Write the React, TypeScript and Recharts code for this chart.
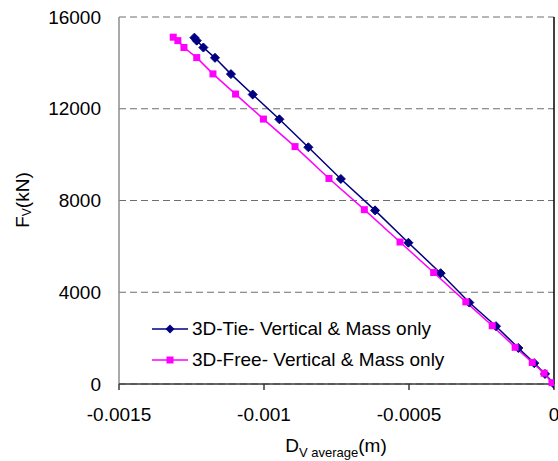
import React from 'react';
import { LineChart, Line, XAxis, YAxis, CartesianGrid, ReferenceLine } from 'recharts';

// Vertical displacement (m) and vertical load (kN) for each model
const tieDisp = [-0.00124, -0.001232, -0.001209, -0.001169, -0.001114, -0.001039, -0.000947, -0.000847, -0.000735, -0.000617, -0.000502, -0.000391, -0.000292, -0.0002, -0.000123, -0.000068, -0.000031, 0];
const tieLoad = [15100, 14970, 14670, 14220, 13510, 12620, 11540, 10320, 8940, 7570, 6160, 4830, 3550, 2520, 1570, 910, 440, 0];
const freeDisp = [-0.001313, -0.001297, -0.001276, -0.001232, -0.001176, -0.001098, -0.001002, -0.000893, -0.000776, -0.000654, -0.000531, -0.000415, -0.000304, -0.000213, -0.000134, -0.000075, -0.000034, -0.000007];
const freeLoad = [15120, 14970, 14670, 14230, 13520, 12640, 11550, 10350, 8960, 7600, 6190, 4860, 3580, 2540, 1600, 940, 470, 60];

const xTicks = [-0.0015, -0.001, -0.0005, 0];
const yTicks = [0, 4000, 8000, 12000, 16000];

const seriesNames = ['3D-Tie- Vertical & Mass only', '3D-Free- Vertical & Mass only'];
const NAVY = '#000080';
const MAGENTA = '#ff00ff';
const FONT = 'Arial, "Liberation Sans", sans-serif';

const tieData = tieDisp.map((d, i) => ({ disp: d, load: tieLoad[i] }));
const freeData = freeDisp.map((d, i) => ({ disp: d, load: freeLoad[i] }));

const Diamond = (props: any) => {
  const { cx, cy } = props;
  if (cx == null || cy == null) return null;
  const r = 4.5;
  return <polygon points={`${cx},${cy - r} ${cx + r},${cy} ${cx},${cy + r} ${cx - r},${cy}`} fill={NAVY} stroke={NAVY} />;
};

const Square = (props: any) => {
  const { cx, cy } = props;
  if (cx == null || cy == null) return null;
  return <rect x={cx - 3.5} y={cy - 3.5} width={7} height={7} fill={MAGENTA} />;
};

const fmtX = (v: number) => (v === 0 ? '0' : String(v));

const XLabel = () => (
  <text x={336} y={452} textAnchor="middle" fontFamily={FONT} fontSize={19} fill="#000">
    D<tspan fontSize={13} dy={5}>V  average</tspan>
    <tspan dy={-5}>(m)</tspan>
  </text>
);

const YLabel = () => (
  <text x={0} y={0} transform="translate(29,200) rotate(-90)" textAnchor="middle" fontFamily={FONT} fontSize={19} fill="#000">
    F<tspan fontSize={12} dy={2}>V</tspan>
    <tspan dy={-2}>(kN)</tspan>
  </text>
);

const LegendBox = () => (
  <div style={{ position: 'absolute', left: 152, top: 313, fontFamily: FONT, fontSize: 19, color: '#000' }}>
    {seriesNames.map((name, i) => (
      <div key={name} style={{ display: 'flex', alignItems: 'center', height: 31, whiteSpace: 'nowrap' }}>
        <svg width={36} height={12} style={{ marginRight: 4 }}>
          <line x1={0} y1={6} x2={36} y2={6} stroke={i === 0 ? NAVY : MAGENTA} strokeWidth={1.5} />
          {i === 0 ? (
            <polygon points="18,1.5 22.5,6 18,10.5 13.5,6" fill={NAVY} />
          ) : (
            <rect x={14.5} y={2.5} width={7} height={7} fill={MAGENTA} />
          )}
        </svg>
        <span>{name}</span>
      </div>
    ))}
  </div>
);

export default function App() {
  return (
    <div style={{ position: 'absolute', left: 0, top: 0, width: 558, height: 461, background: '#fff' }}>
      <LineChart width={558} height={461} margin={{ top: 17, right: 4, bottom: 0, left: 0 }}>
        <CartesianGrid vertical={false} horizontal stroke="#6e6e6e" strokeDasharray="7 4" />
        <XAxis
          type="number"
          dataKey="disp"
          domain={[-0.0015, 0]}
          ticks={xTicks}
          tickFormatter={fmtX}
          height={77}
          stroke="#3a3a3a"
          strokeWidth={1.5}
          tickSize={6}
          tickMargin={18}
          interval={0}
          tick={{ fill: '#000', fontSize: 19, fontFamily: FONT }}
          label={<XLabel />}
          allowDataOverflow
        />
        <YAxis
          type="number"
          dataKey="load"
          domain={[0, 16000]}
          ticks={yTicks}
          width={119}
          axisLine={false}
          tickLine={false}
          tickSize={0}
          tickMargin={18}
          interval={0}
          tick={{ fill: '#000', fontSize: 19, fontFamily: FONT }}
          label={<YLabel />}
        />
        <ReferenceLine x={-0.0015} stroke="#8c8c8c" strokeWidth={1.5} />
        <ReferenceLine x={0} stroke="#000" strokeWidth={1.5} />
        <Line
          data={tieData}
          dataKey="load"
          name={seriesNames[0]}
          stroke={NAVY}
          strokeWidth={1.5}
          dot={<Diamond />}
          activeDot={false}
          isAnimationActive={false}
        />
        <Line
          data={freeData}
          dataKey="load"
          name={seriesNames[1]}
          stroke={MAGENTA}
          strokeWidth={1.5}
          dot={<Square />}
          activeDot={false}
          isAnimationActive={false}
        />
      </LineChart>
      <LegendBox />
    </div>
  );
}
